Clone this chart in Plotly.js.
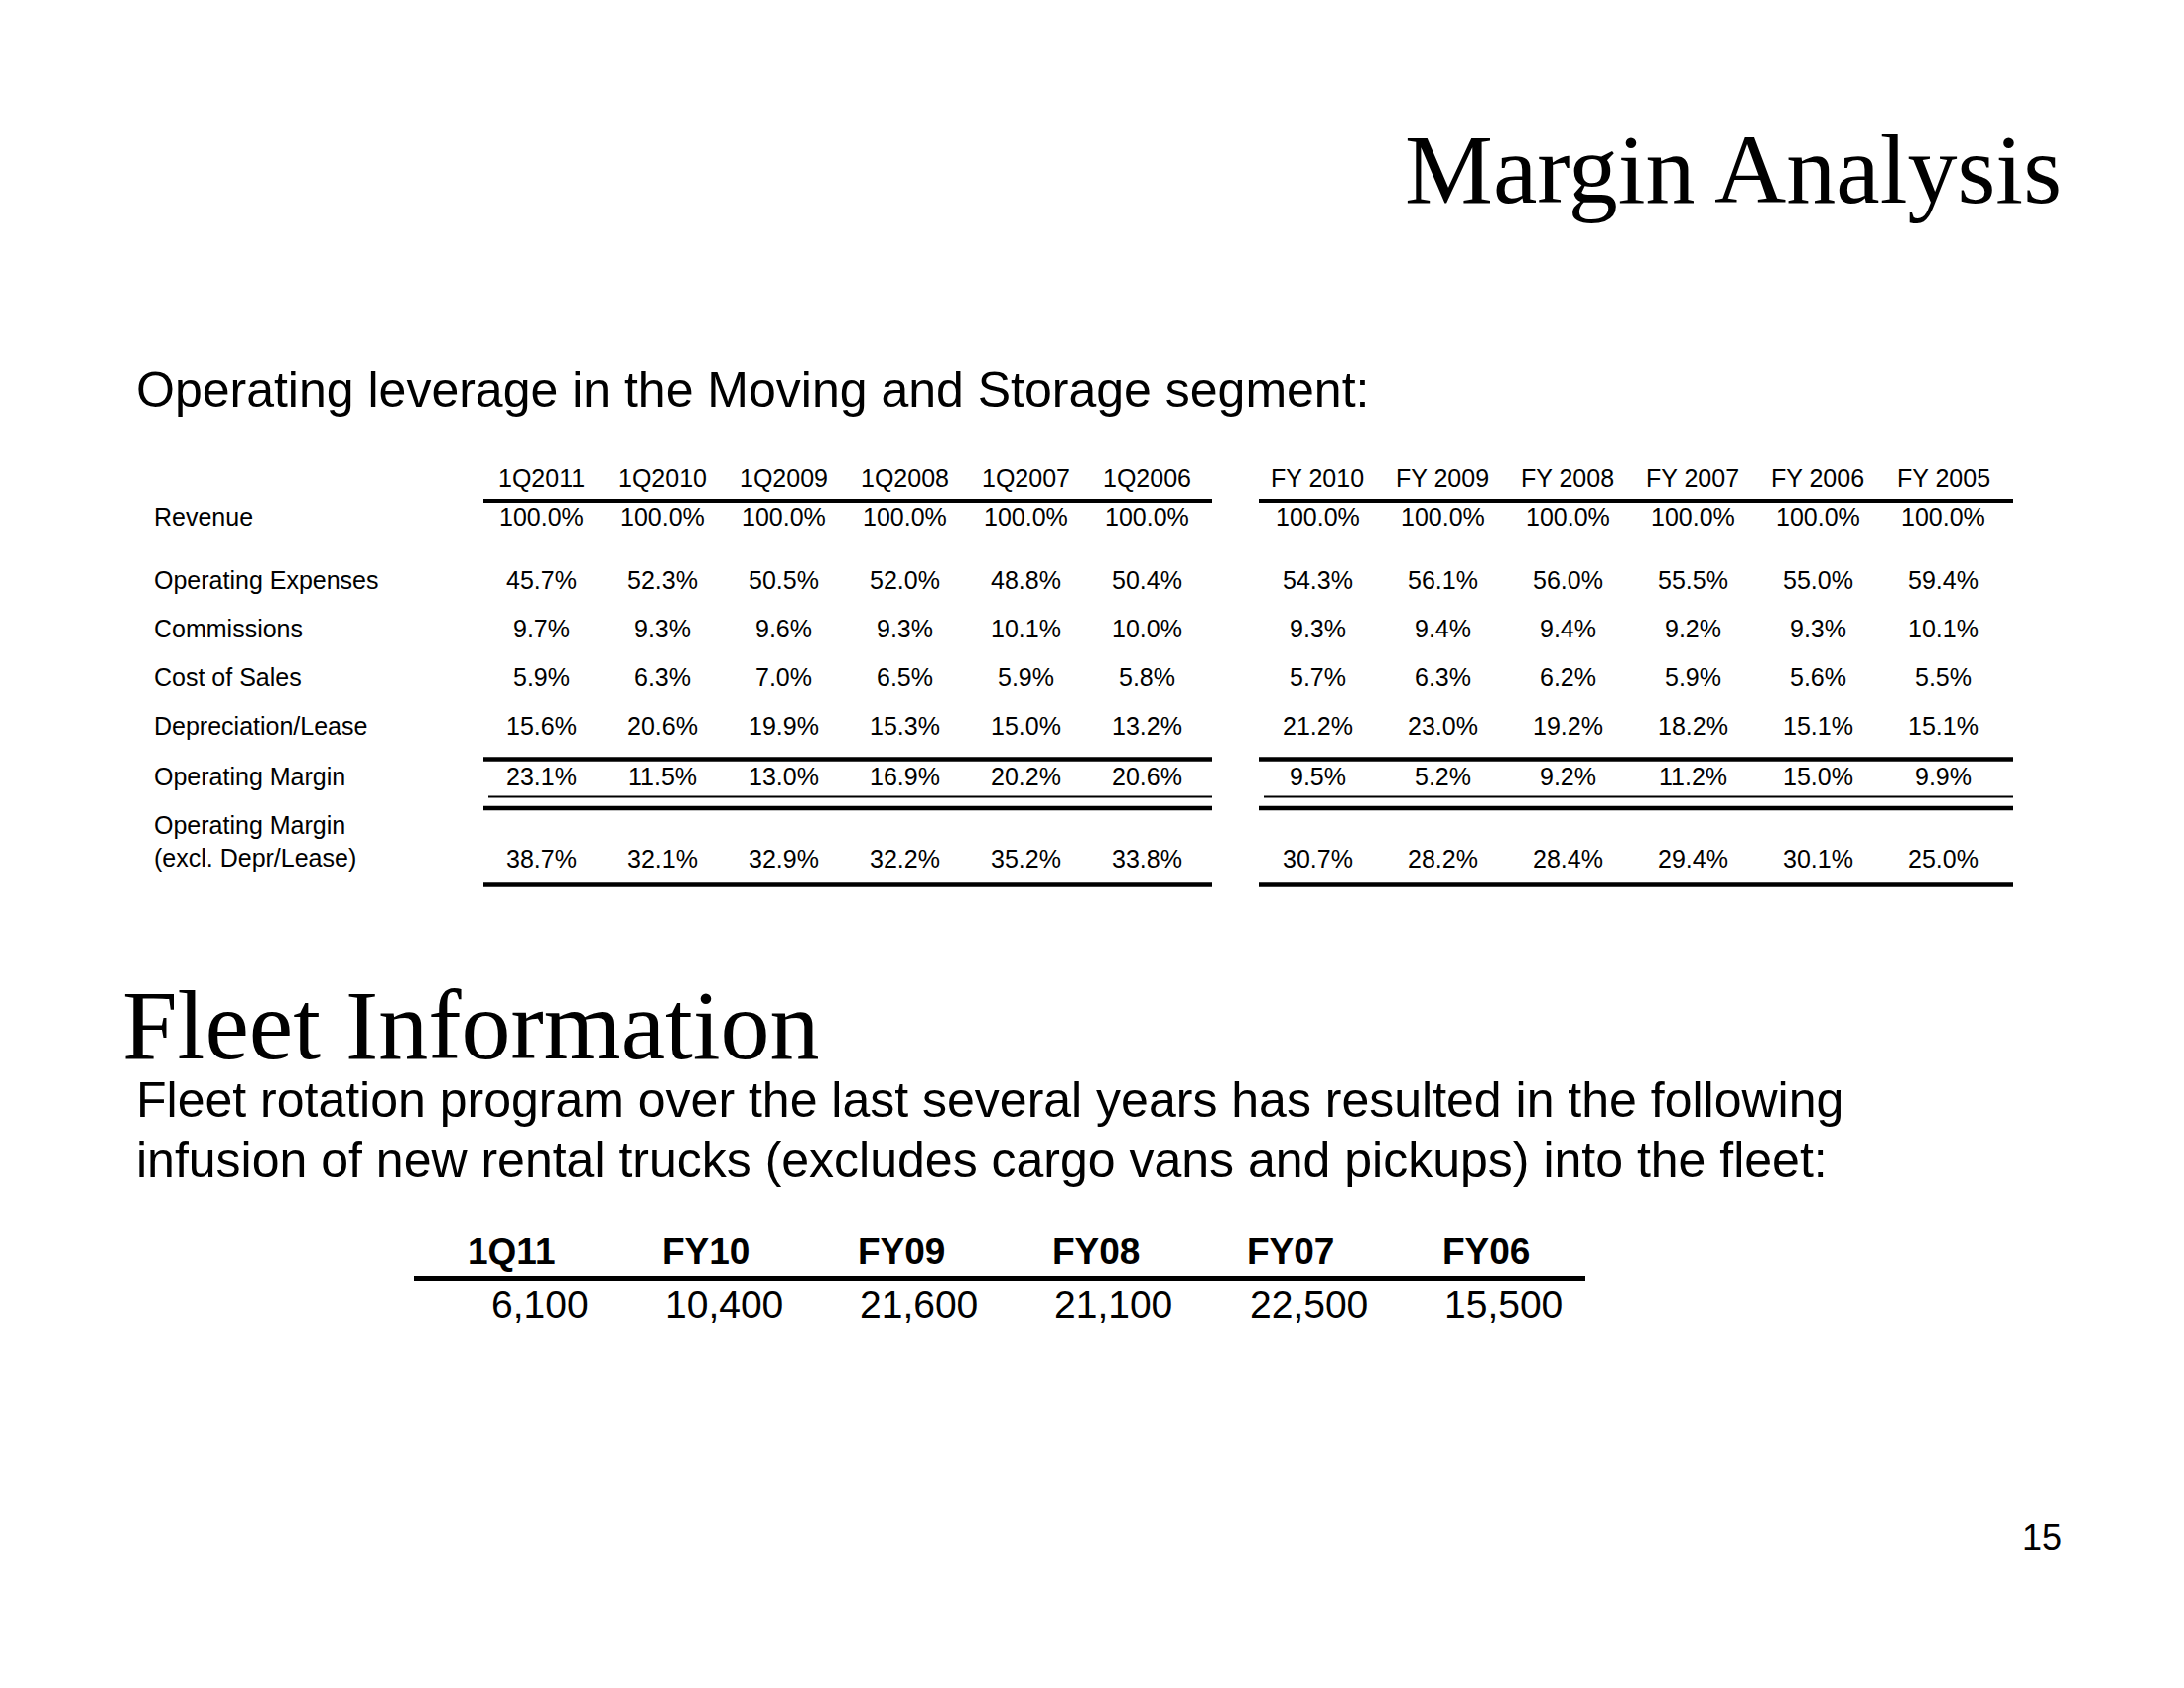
<!DOCTYPE html>
<html>
<head>
<meta charset="utf-8">
<script src="https://cdn.plot.ly/plotly-3.0.1.min.js"></script>
<style>
  html, body { margin: 0; padding: 0; background: #ffffff; }
  #chart { width: 2200px; height: 1700px; }
</style>
</head>
<body>
<div id="chart"></div>
<script>
// ---------------- DATA ----------------
var quarterLabels = ['1Q2011', '1Q2010', '1Q2009', '1Q2008', '1Q2007', '1Q2006'];
var fiscalLabels  = ['FY 2010', 'FY 2009', 'FY 2008', 'FY 2007', 'FY 2006', 'FY 2005'];
var rowLabels = ['Revenue', 'Operating Expenses', 'Commissions', 'Cost of Sales',
                 'Depreciation/Lease', 'Operating Margin', 'Operating Margin<br>(excl. Depr/Lease)'];

// values: 6 quarters then 6 fiscal years (percent of revenue)
var revenue        = [100.0, 100.0, 100.0, 100.0, 100.0, 100.0, 100.0, 100.0, 100.0, 100.0, 100.0, 100.0];
var operatingExp   = [45.7, 52.3, 50.5, 52.0, 48.8, 50.4, 54.3, 56.1, 56.0, 55.5, 55.0, 59.4];
var commissions    = [9.7, 9.3, 9.6, 9.3, 10.1, 10.0, 9.3, 9.4, 9.4, 9.2, 9.3, 10.1];
var costOfSales    = [5.9, 6.3, 7.0, 6.5, 5.9, 5.8, 5.7, 6.3, 6.2, 5.9, 5.6, 5.5];
var deprLease      = [15.6, 20.6, 19.9, 15.3, 15.0, 13.2, 21.2, 23.0, 19.2, 18.2, 15.1, 15.1];
var opMargin       = [23.1, 11.5, 13.0, 16.9, 20.2, 20.6, 9.5, 5.2, 9.2, 11.2, 15.0, 9.9];
var opMarginExcl   = [38.7, 32.1, 32.9, 32.2, 35.2, 33.8, 30.7, 28.2, 28.4, 29.4, 30.1, 25.0];

var fleetPeriods = ['1Q11', 'FY10', 'FY09', 'FY08', 'FY07', 'FY06'];
var fleetTrucks  = [6100, 10400, 21600, 21100, 22500, 15500];

var pageTitle    = 'Margin Analysis';
var subTitle     = 'Operating leverage in the Moving and Storage segment:';
var fleetTitle   = 'Fleet Information';
var fleetText1   = 'Fleet rotation program over the last several years has resulted in the following';
var fleetText2   = 'infusion of new rental trucks (excludes cargo vans and pickups) into the fleet:';
var pageNumber   = '15';

// ---------------- LAYOUT GEOMETRY ----------------
var SANS  = 'Liberation Sans, Arial, Helvetica, sans-serif';
var SERIF = 'Liberation Serif, Times New Roman, Times, serif';
var BLACK = '#000000';

var qCol0 = 545, qStep = 122;        // centers of quarter columns
var fCol0 = 1327, fStep = 126.1;     // centers of fiscal columns
var headerY = 481;
var rowY = [520.5, 583.6, 632.8, 681.9, 731, 781.7, 865];
var labelX = 154;
var tableFont = 25;

var rows = [revenue, operatingExp, commissions, costOfSales, deprLease, opMargin, opMarginExcl];

var annotations = [];
var shapes = [];

function txt(x, y, s, opts) {
  annotations.push({
    x: x, y: y, xref: 'x', yref: 'y', text: s, showarrow: false,
    xanchor: opts.xanchor || 'center', yanchor: opts.yanchor || 'middle',
    align: opts.align || 'center', borderpad: 0,
    font: { family: opts.family || SANS, size: opts.size || tableFont, color: BLACK }
  });
}
function hline(x0, x1, y, w) {
  shapes.push({ type: 'line', xref: 'x', yref: 'y', x0: x0, x1: x1, y0: y, y1: y,
                line: { color: BLACK, width: w } });
}

function colX(i) { return i < 6 ? qCol0 + i * qStep : fCol0 + (i - 6) * fStep; }

// titles
txt(2078, 170, pageTitle, { xanchor: 'right', family: SERIF, size: 100 });
txt(136, 393, subTitle, { xanchor: 'left', size: 50 });
txt(122, 1032, fleetTitle, { xanchor: 'left', family: SERIF, size: 100 });
txt(136, 1108, fleetText1, { xanchor: 'left', size: 50 });
txt(136, 1168, fleetText2, { xanchor: 'left', size: 50 });
txt(2078, 1548, pageNumber, { xanchor: 'right', size: 36 });

// table headers
quarterLabels.forEach(function (h, i) { txt(colX(i), headerY, h, {}); });
fiscalLabels.forEach(function (h, i) { txt(colX(i + 6), headerY, h, {}); });

// row labels
rowLabels.forEach(function (lab, r) {
  var y = r === 6 ? 847 : rowY[r];
  txt(labelX, y, lab, { xanchor: 'left', align: 'left' });
});

// values
rows.forEach(function (vals, r) {
  vals.forEach(function (v, i) {
    txt(colX(i), rowY[r], v.toFixed(1) + '%', {});
  });
});

// table rules
var groups = [[487, 1221], [1268, 2028]];
groups.forEach(function (g) {
  hline(g[0], g[1], 505, 4);
  hline(g[0], g[1], 764.5, 4.3);
  hline(g[0] + 5, g[1], 802.5, 2);
  hline(g[0], g[1], 814, 4.3);
  hline(g[0], g[1], 890.5, 4.3);
});

// fleet table
var fleetHeadX0 = 470, fleetValX0 = 593.5, fleetStep = 196.3;
fleetPeriods.forEach(function (p, i) {
  txt(fleetHeadX0 + i * fleetStep, 1260, '<b>' + p + '</b>', { xanchor: 'left', size: 37 });
});
fleetTrucks.forEach(function (v, i) {
  txt(fleetValX0 + i * fleetStep, 1313, v.toLocaleString('en-US'), { xanchor: 'right', size: 39 });
});
hline(417, 1597, 1287.5, 5);

var layout = {
  width: 2200, height: 1700,
  margin: { l: 0, r: 0, t: 0, b: 0, pad: 0 },
  paper_bgcolor: '#ffffff', plot_bgcolor: '#ffffff',
  showlegend: false,
  xaxis: { range: [0, 2200], visible: false, fixedrange: true },
  yaxis: { range: [1700, 0], visible: false, fixedrange: true },
  annotations: annotations,
  shapes: shapes
};

Plotly.newPlot('chart', [], layout, { staticPlot: true, displayModeBar: false });
</script>
</body>
</html>
